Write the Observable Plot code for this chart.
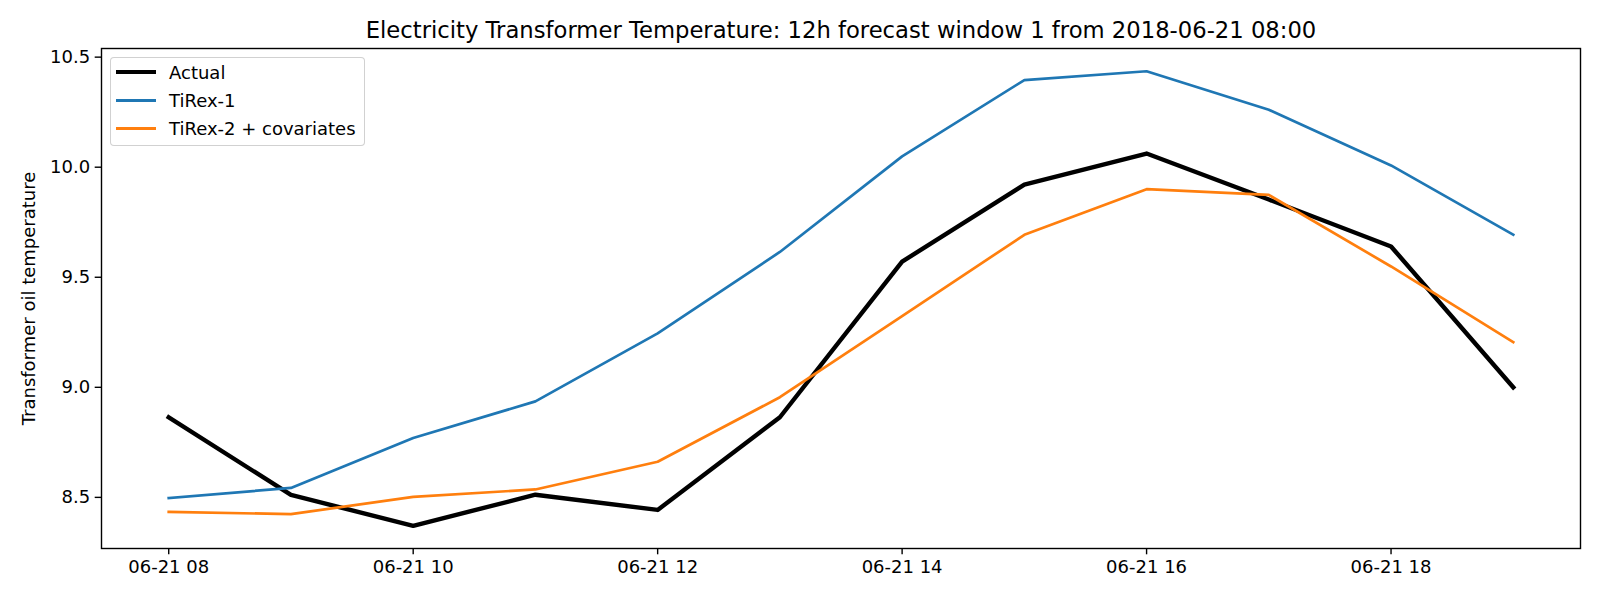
<!DOCTYPE html>
<html>
<head>
<meta charset="utf-8">
<script src="https://cdn.jsdelivr.net/npm/d3@7"></script>
<script src="https://cdn.jsdelivr.net/npm/@observablehq/plot@0.6"></script>
<style>
  body { margin: 0; background: white; }
  #wrap { position: relative; width: 1600px; height: 600px; font-family: "DejaVu Sans", sans-serif; }
  #legend {
    position: absolute; left: 110px; top: 57px; width: 255px; height: 89px;
    border: 1.3px solid rgba(204,204,204,0.9); border-radius: 4px; background: rgba(255,255,255,0.8);
    box-sizing: border-box;
  }
  .row { position: absolute; left: 0; height: 20px; display: flex; align-items: center; font-size: 18px; color: black; }
  .sw { position: absolute; left: 5px; width: 40px; }
  .lab { position: absolute; left: 58px; white-space: nowrap; }
</style>
</head>
<body>
<div id="wrap"></div>
<script>
const times = ["2018-06-21T08:00Z","2018-06-21T09:00Z","2018-06-21T10:00Z","2018-06-21T11:00Z",
               "2018-06-21T12:00Z","2018-06-21T13:00Z","2018-06-21T14:00Z","2018-06-21T15:00Z",
               "2018-06-21T16:00Z","2018-06-21T17:00Z","2018-06-21T18:00Z","2018-06-21T19:00Z"];
const actual = [8.864, 8.511, 8.371, 8.512, 8.443, 8.864, 9.571, 9.921, 10.062, 9.853, 9.640, 9.000];
const tirex1 = [8.497, 8.543, 8.770, 8.936, 9.245, 9.615, 10.049, 10.396, 10.436, 10.261, 10.008, 9.693];
const tirex2 = [8.434, 8.424, 8.502, 8.536, 8.662, 8.955, 9.323, 9.693, 9.900, 9.874, 9.549, 9.205];
const seriesNames = ["Actual", "TiRex-1", "TiRex-2 + covariates"];
const seriesColors = ["black", "#1f77b4", "#ff7f0e"];
const xTicks = ["2018-06-21T08:00Z","2018-06-21T10:00Z","2018-06-21T12:00Z","2018-06-21T14:00Z","2018-06-21T16:00Z","2018-06-21T18:00Z"];
const yTicks = [8.5, 9.0, 9.5, 10.0, 10.5];
const title = "Electricity Transformer Temperature: 12h forecast window 1 from 2018-06-21 08:00";
const yLabel = "Transformer oil temperature";

const dates = times.map(t => new Date(t));
const seriesVals = [actual, tirex1, tirex2];
const rows = [];
seriesVals.forEach((vals, s) => vals.forEach((v, i) => rows.push({series: seriesNames[s], t: dates[i], v})));

const t0 = +dates[0], t1 = +dates[dates.length - 1];
const span = t1 - t0;
const xDomain = [new Date(t0 - 0.05 * span), new Date(t1 + 0.05 * span)];
const allV = actual.concat(tirex1, tirex2);
const vmin = d3.min(allV), vmax = d3.max(allV), vs = vmax - vmin;
const yDomain = [vmin - 0.05 * vs, vmax + 0.05 * vs];

const widths = [4.4, 2.7, 2.7];

const chart = Plot.plot({
  width: 1600, height: 600,
  marginLeft: 101, marginRight: 20, marginTop: 48, marginBottom: 52,
  style: {fontFamily: "DejaVu Sans", fontSize: "18px", color: "black", background: "white"},
  x: {type: "utc", domain: xDomain},
  y: {domain: yDomain},
  marks: [
    Plot.axisX({ticks: xTicks.map(t => new Date(t)), tickFormat: d3.utcFormat("%m-%d %H"), tickSize: 6.3, tickPadding: 5, label: null, strokeWidth: 1.4, fontSize: 18}),
    Plot.axisY({ticks: yTicks, tickFormat: d3.format(".1f"), tickSize: 6.3, tickPadding: 5, label: null, strokeWidth: 1.4, fontSize: 18}),
    ...seriesNames.map((name, s) => Plot.line(rows.filter(r => r.series === name), {
      x: "t", y: "v", stroke: seriesColors[s], strokeWidth: widths[s],
      strokeLinejoin: "round", strokeLinecap: "square"
    })),
    Plot.frame({stroke: "black", strokeWidth: 1.4}),
    Plot.text([title], {frameAnchor: "top", dy: -18, fontSize: 22.7, fill: "black", lineAnchor: "middle", textAnchor: "middle"}),
    Plot.text([yLabel], {frameAnchor: "left", dx: -72, rotate: -90, fontSize: 18, fill: "black", textAnchor: "middle", lineAnchor: "middle"})
  ]
});

const wrap = document.getElementById("wrap");
wrap.appendChild(chart);

const legend = document.createElement("div");
legend.id = "legend";
seriesNames.forEach((name, s) => {
  const row = document.createElement("div");
  row.className = "row";
  row.style.top = (15.3 + s * 28.3 - 10 - 1.3) + "px";
  const sw = document.createElement("div");
  sw.className = "sw";
  sw.style.height = widths[s] + "px";
  sw.style.background = seriesColors[s];
  sw.style.top = (10 - widths[s] / 2) + "px";
  const lab = document.createElement("div");
  lab.className = "lab";
  lab.textContent = name;
  row.appendChild(sw);
  row.appendChild(lab);
  legend.appendChild(row);
});
wrap.appendChild(legend);
</script>
</body>
</html>
